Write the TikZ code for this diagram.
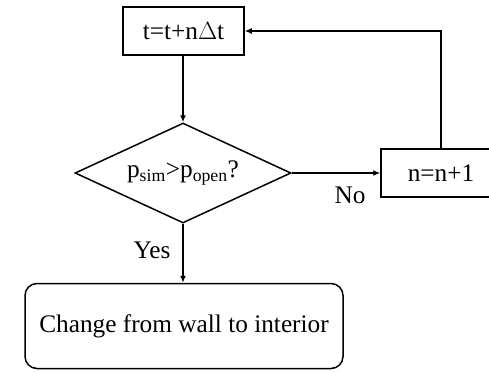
\documentclass[tikz,border=0pt]{standalone}
\usepackage{fontspec}
\setmainfont{Liberation Serif}
\usetikzlibrary{shapes.geometric,arrows.meta}
\begin{document}
\begin{tikzpicture}[x=1pt,y=-1pt,
  every node/.style={font=\fontsize{25.3}{29}\selectfont},
  box/.style={draw,line width=1.5pt,inner sep=0pt},
  conn/.style={line width=1.5pt,-{Latex[length=7pt,width=6pt]}}]
\useasboundingbox (0,0) rectangle (489,372);
\node[box,minimum width=121pt,minimum height=48pt] (top) at (183.5,31) {t=t+n$\Delta$t};
\node[box,diamond,shape aspect=2.16,minimum width=216pt,minimum height=100pt] (dec) at (183,173) {p\textsubscript{sim}>p\textsubscript{open}?};
\node[box,minimum width=120pt,minimum height=48pt] (inc) at (441,173) {n=n+1};
\node[box,rounded corners=12pt,minimum width=318pt,minimum height=85pt] (end) at (184,326) {Change from wall to interior};
\draw[conn] (top.south -| dec.north) -- (dec.north);
\draw[conn] (dec.east) -- (inc.west);
\draw[conn] (inc.north) |- (top.east);
\draw[conn] (dec.south) -- (end.north -| dec.south);
\node (no) at (350,195) {No};
\node (yes) at (152,250) {Yes};
\end{tikzpicture}
\end{document}
